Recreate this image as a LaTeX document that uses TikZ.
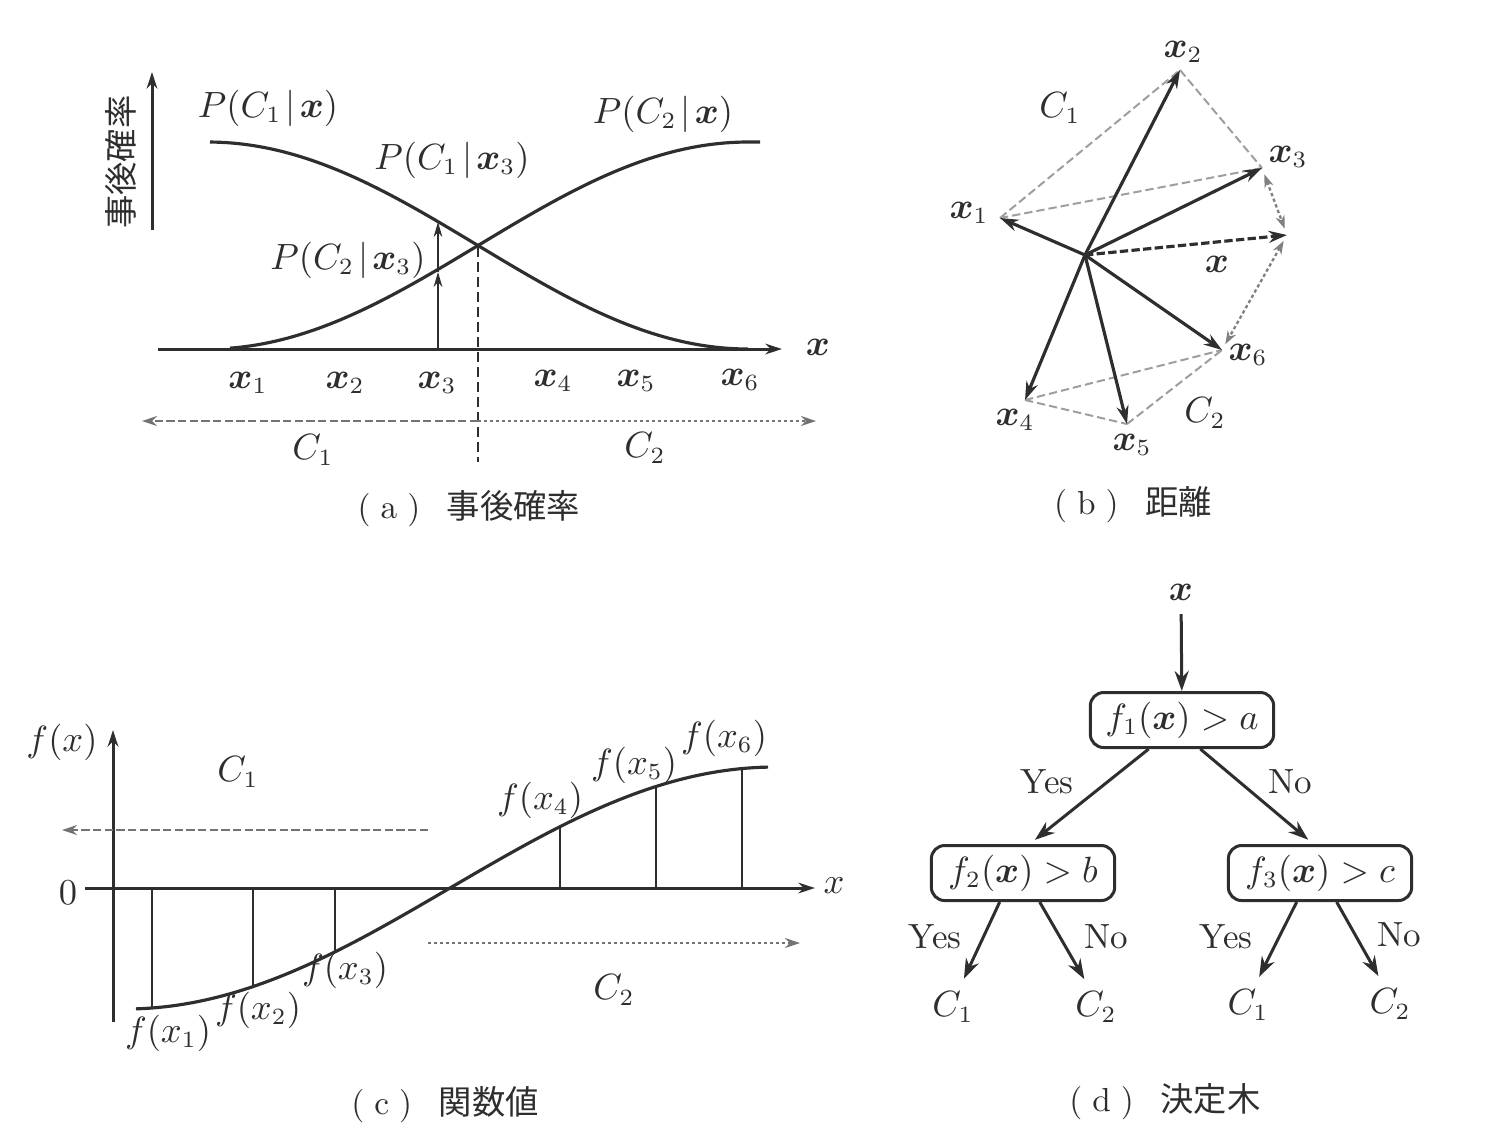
\documentclass[tikz,border=0pt]{standalone}
\usepackage{amsmath}
\usepackage{fontspec}
\newfontfamily\cjk{Noto Sans CJK JP}
\usetikzlibrary{arrows.meta,calc}
\definecolor{ink}{gray}{0.18}
\newcommand{\gv}{\mkern2mu|\mkern2mu}
\newcommand{\capt}[2]{(\hspace{3pt}#1\hspace{3pt})\hspace{8pt}{\cjk #2}}
\begin{document}
\begin{tikzpicture}[x=0.3pt,y=-0.3pt,
  every node/.style={font=\fontsize{10.5}{12}\selectfont, text=ink, inner sep=1pt},
  axis/.style={draw=ink, line width=0.9pt, -{Stealth[length=5pt,width=3.2pt]}},
  curve/.style={draw=ink, line width=0.95pt},
  stem/.style={draw=ink, line width=0.55pt},
  stemarrow/.style={draw=ink, line width=0.55pt, -{Stealth[length=4.5pt,width=2.6pt]}},
  vdash/.style={draw=ink, line width=0.55pt, dash pattern=on 3pt off 1.5pt},
  clsL/.style={draw=black!55, line width=0.7pt, dash pattern=on 2.5pt off 1pt, -{Stealth[length=4.5pt,width=3pt]}},
  clsR/.style={draw=black!55, line width=0.7pt, dash pattern=on 1pt off 0.8pt, -{Stealth[length=4.5pt,width=3pt]}},
  vec/.style={draw=ink, line width=0.95pt, -{Stealth[length=5.5pt,width=3.6pt]}},
  vecd/.style={draw=ink, line width=0.95pt, dash pattern=on 2.5pt off 1pt, -{Stealth[length=5.5pt,width=3.6pt]}},
  gdash/.style={draw=black!38, line width=0.6pt, dash pattern=on 2.5pt off 1.2pt},
  ddot/.style={draw=black!50, line width=0.7pt, dash pattern=on 1pt off 0.8pt, {Stealth[length=4pt,width=2.8pt]}-{Stealth[length=4pt,width=2.8pt]}, shorten <=2pt, shorten >=2pt},
  tbox/.style={draw=ink, line width=0.9pt, rounded corners=4pt, minimum width=55pt, minimum height=16.5pt, inner sep=2pt},
  tarrow/.style={draw=ink, line width=0.9pt, -{Stealth[length=6pt,width=4.2pt]}},
  captxt/.style={font=\fontsize{10}{12}\selectfont}
]
\useasboundingbox (0,0) rectangle (1492,1140);

% ================= (a) =================
\coordinate (ayb) at (152,230);
\coordinate (ayt) at (152,72);
\draw[axis] (ayb) -- (ayt);
\node[rotate=90, font=\fontsize{10}{12}\selectfont] (aylab) at (121,162) {\cjk 事後確率};
\coordinate (axl) at (158,349);
\coordinate (axr) at (782,349);
\draw[axis] (axl) -- (axr);
\node (axlab) at (818,347) {$\boldsymbol{x}$};
% posterior curves
\draw[curve] plot[domain=210:748, samples=90] (\x,{142+207*(1-cos((\x-208)/540*180))/2});
\draw[curve] plot[domain=230:748, samples=90] (\x,{349-207*(1-cos((\x-208)/540*180))/2}) -- (760,142);
\node (pc1) at (268,108) {$P(C_1\gv\boldsymbol{x})$};
\node (pc2) at (663,114) {$P(C_2\gv\boldsymbol{x})$};
\node (pc1x3) at (452,160) {$P(C_1\gv\boldsymbol{x}_3)$};
\node (pc2x3) at (348,260) {$P(C_2\gv\boldsymbol{x}_3)$};
% x3 arrows
\coordinate (x3b) at (438,349);
\coordinate (x3m) at (438,272);
\coordinate (x3t) at (438,222);
\draw[stemarrow] (x3b) -- (x3m);
\draw[stemarrow] (x3m) -- (x3t);
% boundary
\coordinate (bt) at (478,247);
\coordinate (bb) at (478,462);
\draw[vdash] (bt) -- (bb);
\coordinate (bm) at (478,421);
\coordinate (bl) at (142,421);
\coordinate (br) at (816,421);
\draw[clsL] (bm) -- (bl);
\draw[clsR] (bm) -- (br);
\node (ax1) at (248,383) {$\boldsymbol{x}_1$};
\node (ax2) at (345,383) {$\boldsymbol{x}_2$};
\node (ax3) at (437,383) {$\boldsymbol{x}_3$};
\node (ax4) at (553,381) {$\boldsymbol{x}_4$};
\node (ax5) at (636,381) {$\boldsymbol{x}_5$};
\node (ax6) at (740,380) {$\boldsymbol{x}_6$};
\node (ac1) at (313,450) {$C_1$};
\node (ac2) at (645,448) {$C_2$};
\node[captxt] (capa) at (469,509) {\capt{a}{事後確率}};

% ================= (b) =================
\coordinate (O) at (1085,255);
\coordinate (p1) at (1000,218);
\coordinate (p2) at (1180,70);
\coordinate (p3) at (1262,168);
\coordinate (px) at (1287,235);
\coordinate (p6) at (1222,350);
\coordinate (p5) at (1127,424);
\coordinate (p4) at (1025,400);
\draw[gdash] (p1) -- (p2);
\draw[gdash] (p1) -- (p3);
\draw[gdash] (p2) -- (p3);
\draw[gdash] (p4) -- (p6);
\draw[gdash] (p4) -- (p5);
\draw[gdash] (p5) -- (p6);
\draw[ddot] (p3) -- (px);
\draw[ddot] (px) -- (p6);
\draw[vec] (O) -- (p1);
\draw[vec] (O) -- (p2);
\draw[vec] (O) -- (p3);
\draw[vec] (O) -- (p4);
\draw[vec] (O) -- (p5);
\draw[vec] (O) -- (p6);
\draw[vecd] (O) -- (px);
\node (bx1) at (969,213) {$\boldsymbol{x}_1$};
\node (bx2) at (1183,52) {$\boldsymbol{x}_2$};
\node (bx3) at (1288,157) {$\boldsymbol{x}_3$};
\node (bx) at (1217,264) {$\boldsymbol{x}$};
\node (bx6) at (1248,355) {$\boldsymbol{x}_6$};
\node (bx5) at (1132,445) {$\boldsymbol{x}_5$};
\node (bx4) at (1015,420) {$\boldsymbol{x}_4$};
\node (bc1) at (1060,108) {$C_1$};
\node (bc2) at (1205,413) {$C_2$};
\node[captxt] (capb) at (1133,505) {\capt{b}{距離}};

% ================= (c) =================
\coordinate (cyb) at (113,1022);
\coordinate (cyt) at (113,730);
\draw[axis] (cyb) -- (cyt);
\coordinate (cxl) at (85,888);
\coordinate (cxr) at (815,888);
\draw[axis] (cxl) -- (cxr);
\node (cylab) at (62,742) {$f(x)$};
\node (czero) at (68,893) {$0$};
\node (cxlab) at (834,886) {$x$};
\draw[curve] plot[domain=136:768, samples=90] (\x,{888-121*sin((\x-450)/325*90)});
\foreach \xx/\nm in {152/s1,253/s2,335/s3,560/s4,656/s5,742/s6}{
  \coordinate (\nm a) at (\xx,888);
  \coordinate (\nm b) at (\xx,{888-121*sin((\xx-450)/325*90)});
  \draw[stem] (\nm a) -- (\nm b);
}
\node (cf1) at (168,1033) {$f(x_1)$};
\node (cf2) at (258,1010) {$f(x_2)$};
\node (cf3) at (345,970) {$f(x_3)$};
\node (cf4) at (540,800) {$f(x_4)$};
\node (cf5) at (634,765) {$f(x_5)$};
\node (cf6) at (724,738) {$f(x_6)$};
\node (cc1) at (238,772) {$C_1$};
\node (cc2) at (614,990) {$C_2$};
\coordinate (cl1) at (428,830);
\coordinate (cl2) at (62,830);
\draw[clsL] (cl1) -- (cl2);
\coordinate (cr1) at (428,943);
\coordinate (cr2) at (800,943);
\draw[clsR] (cr1) -- (cr2);
\node[captxt] (capc) at (445,1105) {\capt{c}{関数値}};

% ================= (d) =================
\node (xin) at (1181,592) {$\boldsymbol{x}$};
\node[tbox] (f1) at (1182,720) {$f_1(\boldsymbol{x}) > a$};
\node[tbox] (f2) at (1023,873) {$f_2(\boldsymbol{x}) > b$};
\node[tbox] (f3) at (1320,873) {$f_3(\boldsymbol{x}) > c$};
\node (l1) at (953,1007) {$C_1$};
\node (l2) at (1096,1007) {$C_2$};
\node (l3) at (1248,1005) {$C_1$};
\node (l4) at (1390,1004) {$C_2$};
\draw[tarrow, shorten <=3pt] (xin) -- (f1);
\draw[tarrow, shorten >=2pt] ([xshift=-10pt]f1.south) -- ([xshift=2pt]f2.north);
\draw[tarrow, shorten >=2pt] ([xshift=5.5pt]f1.south) -- ([xshift=-2pt]f3.north);
\draw[tarrow, shorten >=3pt] ([xshift=-7pt]f2.south) -- ([xshift=2pt]l1.north);
\draw[tarrow, shorten >=3pt] ([xshift=5pt]f2.south) -- ([xshift=-2pt]l2.north);
\draw[tarrow, shorten >=3pt] ([xshift=-7pt]f3.south) -- ([xshift=2pt]l3.north);
\draw[tarrow, shorten >=3pt] ([xshift=5pt]f3.south) -- ([xshift=-2pt]l4.north);
\node (y1) at (1047,782) {Yes};
\node (n1) at (1290,782) {No};
\node (y2) at (935,937) {Yes};
\node (n2) at (1106,937) {No};
\node (y3) at (1226,937) {Yes};
\node (n3) at (1399,935) {No};
\node[captxt] (capd) at (1165,1102) {\capt{d}{決定木}};
\end{tikzpicture}
\end{document}
